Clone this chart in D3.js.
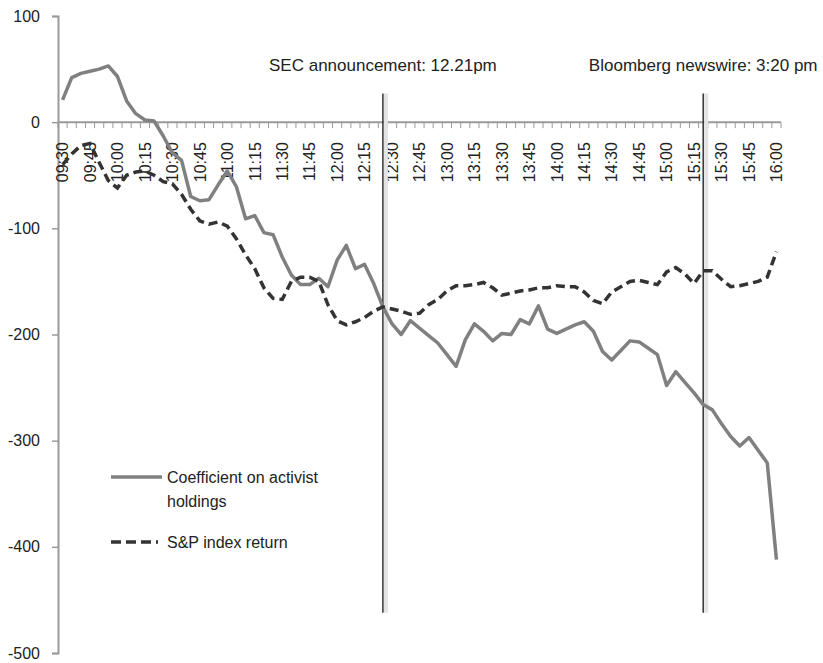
<!DOCTYPE html>
<html>
<head>
<meta charset="utf-8">
<script src="https://cdn.jsdelivr.net/npm/d3@7"></script>
<style>
  body { margin: 0; background: #fff; }
  text { font-family: "Liberation Sans", Arial, sans-serif; fill: #222; }
</style>
</head>
<body>
<div id="chart"></div>
<script>
// Step 1: data
const times = [
  "09:30","09:35","09:40","09:45","09:50","09:55","10:00","10:05","10:10","10:15",
  "10:20","10:25","10:30","10:35","10:40","10:45","10:50","10:55","11:00","11:05",
  "11:10","11:15","11:20","11:25","11:30","11:35","11:40","11:45","11:50","11:55",
  "12:00","12:05","12:10","12:15","12:20","12:25","12:30","12:35","12:40","12:45",
  "12:50","12:55","13:00","13:05","13:10","13:15","13:20","13:25","13:30","13:35",
  "13:40","13:45","13:50","13:55","14:00","14:05","14:10","14:15","14:20","14:25",
  "14:30","14:35","14:40","14:45","14:50","14:55","15:00","15:05","15:10","15:15",
  "15:20","15:25","15:30","15:35","15:40","15:45","15:50","15:55","16:00"
];

const activist = [
  21, 42, 46, 48, 50, 53, 43, 20, 8, 2,
  1, -13, -29, -36, -70, -74, -73, -59, -46, -61,
  -91, -88, -104, -106, -127, -144, -153, -153, -147, -155,
  -130, -116, -138, -134, -152, -174, -190, -200, -187, -194,
  -201, -208, -219, -230, -205, -190, -197, -206, -199, -200,
  -186, -190, -173, -195, -199, -195, -191, -188, -197, -216,
  -224, -215, -206, -207, -213, -219, -248, -235, -245, -255,
  -266, -271, -284, -296, -305, -297, -309, -321, -412
];

const spIndex = [
  -40, -30, -22, -20, -38, -55, -62, -50, -47, -46,
  -50, -56, -58, -68, -82, -93, -96, -94, -98, -110,
  -125, -138, -156, -166, -167, -150, -146, -146, -150, -172,
  -187, -191, -188, -184, -178, -174, -176, -178, -181, -180,
  -172, -167, -159, -154, -154, -153, -151, -156, -163, -161,
  -159, -158, -156, -156, -154, -155, -155, -160, -168, -171,
  -160, -155, -150, -149, -151, -153, -141, -137, -143, -152,
  -140, -140, -148, -155, -154, -152, -150, -146, -122
];

const xTickLabels = [
  "09:30","09:45","10:00","10:15","10:30","10:45","11:00","11:15","11:30","11:45",
  "12:00","12:15","12:30","12:45","13:00","13:15","13:30","13:45","14:00","14:15",
  "14:30","14:45","15:00","15:15","15:30","15:45","16:00"
];
const yTicks = [100, 0, -100, -200, -300, -400, -500];

const events = [
  { time: "12:25", label: "SEC announcement: 12.21pm" },
  { time: "15:20", label: "Bloomberg newswire: 3:20 pm" }
];

// Step 2: svg
const W = 823, H = 663;
const svg = d3.select("#chart").append("svg")
  .attr("width", W)
  .attr("height", H);

// Step 3: scales
const x = d3.scaleBand().domain(times).range([58, 781]).padding(0);
const cx = d => x(d) + x.bandwidth() / 2;
const y = d3.scaleLinear().domain([-500, 100]).range([653, 16]);

// Step 4: axes
const yAxis = d3.axisLeft(y).tickValues(yTicks).tickSize(6).tickPadding(12)
  .tickFormat(d => String(d));
const gy = svg.append("g")
  .attr("transform", "translate(58,0)")
  .call(yAxis);
gy.select(".domain").attr("stroke", "#9a9a9a").attr("stroke-width", 2);
gy.selectAll(".tick line").attr("stroke", "#9a9a9a").attr("stroke-width", 1.5);
gy.selectAll(".tick text").style("font-size", "16px").attr("fill", "#222")
  .style("font-family", "'Liberation Sans', Arial, sans-serif");

// x axis: line at 0 with ticks at category boundaries
const gx = svg.append("g").attr("class", "x-axis");
gx.append("line")
  .attr("x1", 58).attr("x2", 781)
  .attr("y1", y(0)).attr("y2", y(0))
  .attr("stroke", "#9a9a9a").attr("stroke-width", 2);
const bounds = times.map(t => x(t)).concat([x.range()[1]]);
gx.selectAll(".xt").data(bounds).enter().append("line")
  .attr("x1", d => d).attr("x2", d => d)
  .attr("y1", y(0)).attr("y2", y(0) + 6)
  .attr("stroke", "#9a9a9a").attr("stroke-width", 1);

const xAxis = d3.axisBottom(x).tickValues(xTickLabels).tickSize(0);
const gxl = svg.append("g")
  .attr("transform", `translate(0,${y(0)})`)
  .call(xAxis);
gxl.select(".domain").remove();
gxl.selectAll(".tick text")
  .attr("transform", "rotate(-90)")
  .attr("x", -20)
  .attr("y", 0)
  .attr("dy", "0.36em")
  .attr("text-anchor", "end")
  .attr("fill", "#222")
  .style("font-size", "16px")
  .style("font-family", "'Liberation Sans', Arial, sans-serif");

// Step 5: event lines
events.forEach(e => {
  const ex = cx(e.time);
  svg.append("line")
    .attr("x1", ex + 3).attr("x2", ex + 3)
    .attr("y1", y(27)).attr("y2", y(-462))
    .attr("stroke", "#e3e3e3").attr("stroke-width", 4);
  svg.append("line")
    .attr("x1", ex).attr("x2", ex)
    .attr("y1", y(27)).attr("y2", y(-462))
    .attr("stroke", "#333").attr("stroke-width", 1.5);
  svg.append("text")
    .attr("x", ex)
    .attr("y", 71)
    .attr("text-anchor", "middle")
    .style("font-size", "17px")
    .text(e.label);
});

// Step 6: lines
const line = d3.line()
  .x((d, i) => cx(times[i]))
  .y(d => y(d));

svg.append("path")
  .datum(activist)
  .attr("d", line)
  .attr("fill", "none")
  .attr("stroke", "#808080")
  .attr("stroke-width", 3.5)
  .attr("stroke-linejoin", "round");

svg.append("path")
  .datum(spIndex)
  .attr("d", line)
  .attr("fill", "none")
  .attr("stroke", "#333")
  .attr("stroke-width", 3.5)
  .attr("stroke-dasharray", "9,5");

// Step 7: legend
const legend = svg.append("g");
legend.append("line")
  .attr("x1", 111).attr("x2", 162).attr("y1", 477).attr("y2", 477)
  .attr("stroke", "#808080").attr("stroke-width", 3.5);
legend.append("text").attr("x", 167).attr("y", 483)
  .style("font-size", "16px").text("Coefficient on activist");
legend.append("text").attr("x", 167).attr("y", 507)
  .style("font-size", "16px").text("holdings");
legend.append("line")
  .attr("x1", 111).attr("x2", 158).attr("y1", 542).attr("y2", 542)
  .attr("stroke", "#333").attr("stroke-width", 3.5)
  .attr("stroke-dasharray", "10,5");
legend.append("text").attr("x", 167).attr("y", 548)
  .style("font-size", "16px").text("S&P index return");
</script>
</body>
</html>
